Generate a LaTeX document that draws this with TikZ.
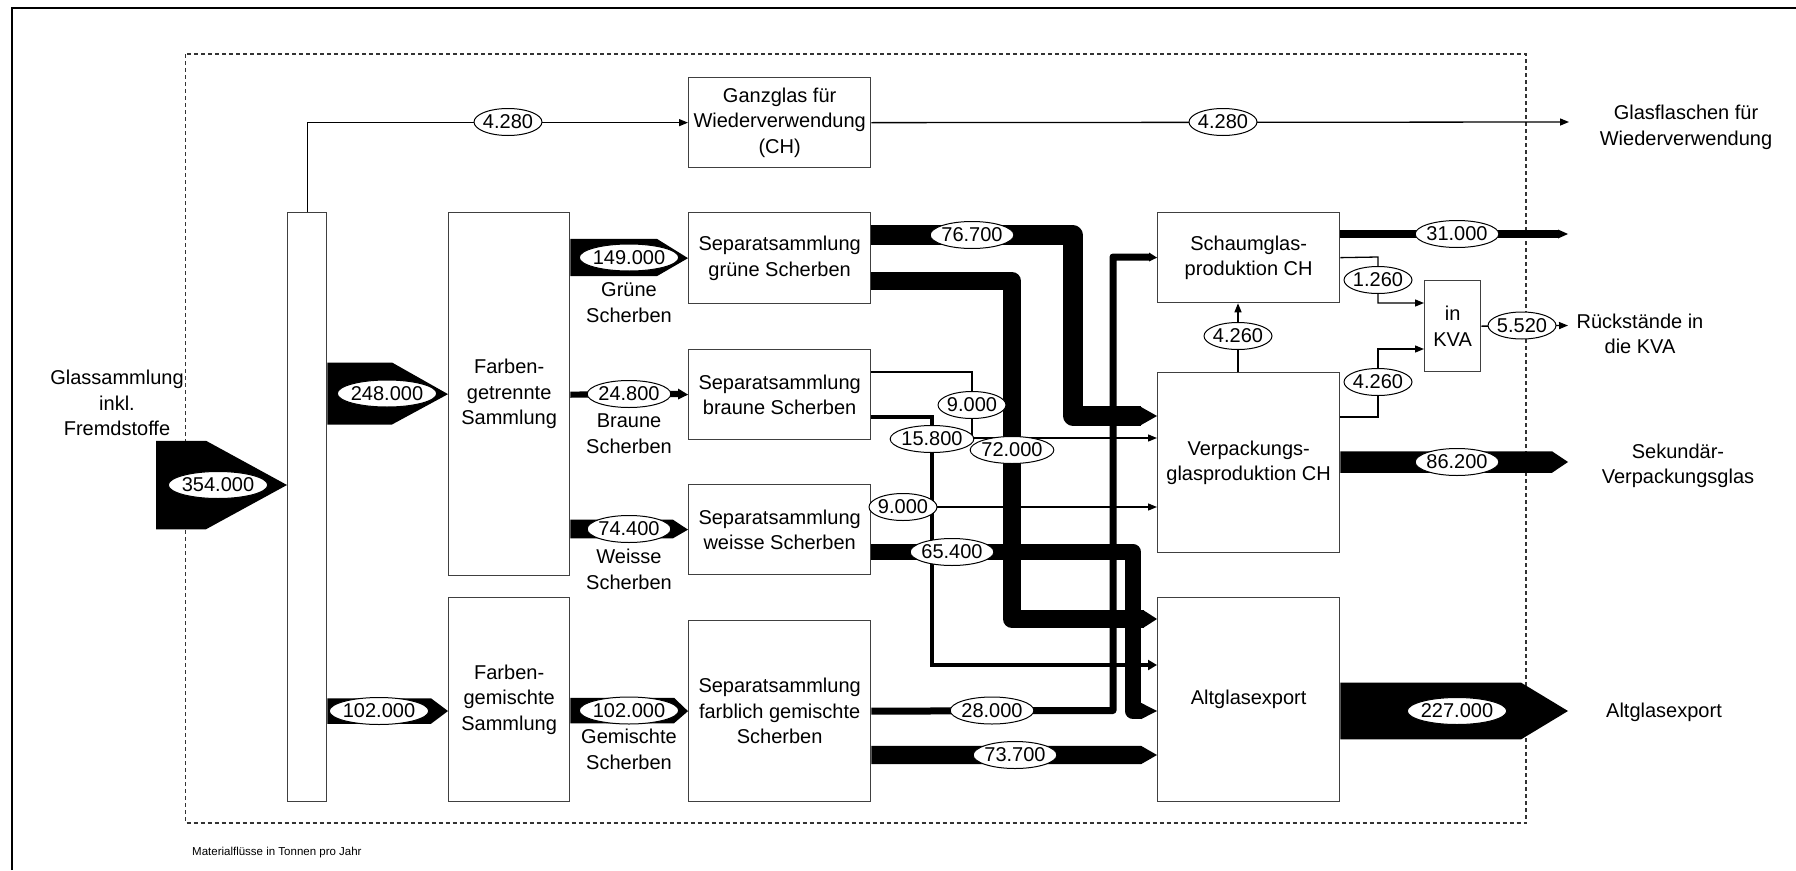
\documentclass[tikz,border=0pt]{standalone}
\usepackage{fontspec}
\setmainfont{Liberation Sans}
\usetikzlibrary{arrows.meta,calc,shapes.geometric}
\newcommand\fs{\fontsize{20}{25.5}\selectfont}
\newcommand\tip[4]{\fill (#1,{#2-#3/2}) -- (#4) -- (#1,{#2+#3/2}) -- cycle;}
\tikzset{
  procbox/.style={draw=black!75, line width=1.3pt, fill=white, align=center, inner sep=0pt, anchor=north west, font=\fs},
  lbl/.style={ellipse, draw=black, line width=1pt, fill=white, inner xsep=-1pt, inner ysep=0pt, minimum height=27pt, font=\fs},
  txt/.style={align=center, inner sep=0pt, font=\fs},
  thinarrow/.style={line width=1.3pt, -{Triangle[length=9pt,width=7pt]}},
  flowband/.style={line width=#1, line join=round},
  dashedbox/.style={draw=black!80, line width=1.2pt, dash pattern=on 4pt off 3pt},
}
\begin{document}
\begin{tikzpicture}[x=1pt,y=-1pt]
\useasboundingbox (0,0) rectangle (1796,870);
\fill[white] (0,0) rectangle (1796,870);
\draw[line width=2pt] (12,870) -- (12,8) -- (1796,8);
\draw[dashedbox] (185.5,54) rectangle (1526,823);

% ---- nodes
\node[procbox, minimum width=39, minimum height=589] (verteil) at (287,212) {};
\node[procbox, minimum width=121, minimum height=363] (getr) at (448,212) {Farben-\\getrennte\\Sammlung};
\node[procbox, minimum width=121, minimum height=204] (gem) at (448,597) {Farben-\\gemischte\\Sammlung};
\node[procbox, minimum width=182, minimum height=90] (ganz) at (688,77) {Ganzglas für\\Wiederverwendung\\(CH)};
\node[procbox, minimum width=182, minimum height=91] (gruene) at (688,212) {Separatsammlung\\grüne Scherben};
\node[procbox, minimum width=182, minimum height=90] (braune) at (688,349) {Separatsammlung\\braune Scherben};
\node[procbox, minimum width=182, minimum height=90] (weisse) at (688,484) {Separatsammlung\\weisse Scherben};
\node[procbox, minimum width=182, minimum height=181] (farb) at (688,620) {Separatsammlung\\farblich gemischte\\Scherben};
\node[procbox, minimum width=182, minimum height=90] (schaum) at (1157,212) {Schaumglas-\\produktion CH};
\node[procbox, minimum width=182, minimum height=180] (verp) at (1157,372) {Verpackungs-\\glasproduktion CH};
\node[procbox, minimum width=182, minimum height=204] (alt) at (1157,597) {Altglasexport};
\node[procbox, minimum width=56, minimum height=91] (kva) at (1424,280) {in\\KVA};

\node[txt] (quelle) at (117,403) {Glassammlung\\inkl.\\Fremdstoffe};
\node[txt] (out1) at (1686,127.5) {Glasflaschen für\\Wiederverwendung};
\node[txt] (out2) at (1640,334) {Rückstände in\\die KVA};
\node[txt] (out3) at (1678,466) {Sekundär-\\Verpackungsglas};
\node[txt] (out4) at (1664,712) {Altglasexport};
\node[txt] (tg) at (629,302.5) {Grüne\\Scherben};
\node[txt] (tb) at (629,433.5) {Braune\\Scherben};
\node[txt] (tw) at (629,569.5) {Weisse\\Scherben};
\node[txt] (tm) at (629,749.5) {Gemischte\\Scherben};
\node[anchor=west, inner sep=0pt, font=\fontsize{11.5}{13}\selectfont] (cap) at (192,853) {Materialflüsse in Tonnen pro Jahr};

\coordinate (e1) at (1569,122);
\coordinate (e2) at (1568,325.5);
\coordinate (e3) at (1568,234);
\coordinate (e4) at (1568,462);
\coordinate (e5) at (1568,711);

% ---- left flows
\fill (156,440.75) -- (206,440.75) -- (verteil.west |- 0,485) -- (206,529.25) -- (156,529.25) -- cycle;
\fill (verteil.east |- 0,362.5) -- (392,362.5) -- (getr.west) -- (392,424.5) -- (verteil.east |- 0,424.5) -- cycle;
\fill (verteil.east |- 0,698.25) -- (431,698.25) -- (gem.west |- 0,711) -- (431,723.75) -- (verteil.east |- 0,723.75) -- cycle;
\draw[thinarrow] (verteil.north) -- (verteil.north |- ganz.west) -- (ganz.west);

\fill (getr.east |- 0,238.9) -- (657,238.9) -- (gruene.west) -- (657,276.1) -- (getr.east |- 0,276.1) -- cycle;
\draw[flowband=6.2] (getr.east |- braune.west) -- (679,394);
\tip{678}{394}{11}{braune.west}
\fill (getr.east |- 0,519.7) -- (673,519.7) -- (weisse.west) -- (673,538.3) -- (getr.east |- 0,538.3) -- cycle;
\fill (gem.east |- 0,697.75) -- (674,697.75) -- (farb.west) -- (674,723.25) -- (gem.east |- 0,723.25) -- cycle;

% ---- middle flows
\draw[flowband=19.2] (gruene.east |- 0,235) -- (1073,235) -- (1073,416) -- (1141,416);
\tip{1140}{416}{19.2}{verp.west |- 0,416}
\draw[flowband=18] (gruene.east |- 0,281) -- (1012,281) -- (1012,619) -- (1144,619);
\tip{1143}{619}{18}{alt.west |- 0,619}
\draw[thinarrow] (braune.east |- 0,372) -- (972,372) -- (972,438) -- (verp.west |- 0,438);
\draw[line width=3.95pt, -{Triangle[length=9pt,width=10pt]}] (braune.east |- 0,417) -- (932,417) -- (932,665) -- (alt.west |- 0,665);
\draw[thinarrow] (weisse.east |- 0,507) -- (verp.west |- 0,507);
\draw[flowband=16.35] (weisse.east |- 0,552) -- (1133,552) -- (1133,711) -- (1142,711);
\tip{1141}{711}{16.35}{alt.west |- 0,711}
\draw[flowband=7] (farb.east) -- (1113,710.5) -- (1113,257) -- (1150,257);
\tip{1149}{257}{9}{schaum.west}
\fill (farb.east |- 0,745.8) -- (1141,745.8) -- (alt.west |- 0,755) -- (1141,764.2) -- (farb.east |- 0,764.2) -- cycle;

% ---- right flows
\draw[thinarrow] (verp.north -| 1238,0) -- (schaum.south -| 1238,0);
\draw[thinarrow] (schaum.east) -- (1378,257) -- (1378,303) -- (kva.west |- 0,303);
\draw[thinarrow] (verp.east |- 0,417) -- (1378,417) -- (1378,349) -- (kva.west |- 0,349);
\draw[thinarrow] (kva.east) -- (e2);
\draw[flowband=7.75] (schaum.east |- e3) -- (1559,234);
\tip{1558}{234}{9}{e3}
\fill (verp.east |- 0,451.25) -- (1552,451.25) -- (e4) -- (1552,472.75) -- (verp.east |- 0,472.75) -- cycle;
\fill (alt.east |- 0,682.6) -- (1521,682.6) -- (e5) -- (1521,739.4) -- (alt.east |- 0,739.4) -- cycle;
\draw[thinarrow] (ganz.east) -- (e1);

% ---- labels
\node[lbl] at (218,485) {354.000};
\node[lbl] at (387,393.5) {248.000};
\node[lbl] at (379,711) {102.000};
\node[lbl] at (508,122) {4.280};
\node[lbl] at (629,257.5) {149.000};
\node[lbl] at (629,394) {24.800};
\node[lbl] at (629,529) {74.400};
\node[lbl] at (629,710.5) {102.000};
\node[lbl] at (972,235) {76.700};
\node[lbl] at (1012,450) {72.000};
\node[lbl] at (972,405) {9.000};
\node[lbl] at (932,439) {15.800};
\node[lbl] at (903,507) {9.000};
\node[lbl] at (952,552) {65.400};
\node[lbl] at (992,710.5) {28.000};
\node[lbl] at (1015,755) {73.700};
\node[lbl] at (1223,122) {4.280};
\node[lbl] at (1457,234) {31.000};
\node[lbl] at (1378,280) {1.260};
\node[lbl] at (1238,336) {4.260};
\node[lbl] at (1378,382) {4.260};
\node[lbl] at (1522,325.5) {5.520};
\node[lbl] at (1457,462) {86.200};
\node[lbl] at (1457,711) {227.000};
\end{tikzpicture}
\end{document}
